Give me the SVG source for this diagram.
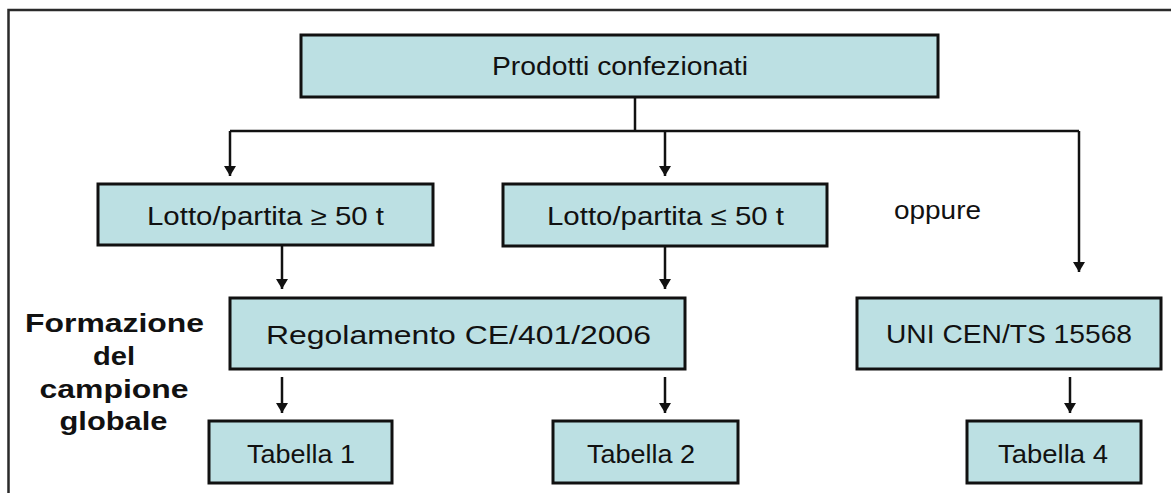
<svg xmlns="http://www.w3.org/2000/svg" width="1171" height="493" viewBox="0 0 1171 493">
<style>
.box{fill:#BCE0E3;stroke:#111;stroke-width:3}
.t{font-family:"Liberation Sans",Arial,sans-serif;font-size:26px;fill:#111}
.b{font-family:"Liberation Sans",Arial,sans-serif;font-size:26px;font-weight:bold;fill:#111;text-anchor:middle}
.c{fill:none;stroke:#111;stroke-width:2.5}
.frame{fill:none;stroke:#2a2a2a;stroke-width:2.5}
</style>
<defs>
<marker id="ah" viewBox="0 0 10 12" markerWidth="10" markerHeight="12" refX="10" refY="6" orient="auto" markerUnits="userSpaceOnUse" preserveAspectRatio="none">
<path d="M0,0 L10,6 L0,12 z" fill="#111"/>
</marker>
</defs>
<rect class="frame" x="8.5" y="10" width="1180" height="500"/>
<g id="connectors">
<path class="c" d="M635,97 V131"/>
<path class="c" d="M230,131 H1079"/>
<path class="c" d="M230,131 V176" marker-end="url(#ah)"/>
<path class="c" d="M665,131 V176" marker-end="url(#ah)"/>
<path class="c" d="M1079,131 V272" marker-end="url(#ah)"/>
<path class="c" d="M282,245 V289" marker-end="url(#ah)"/>
<path class="c" d="M665,246 V289" marker-end="url(#ah)"/>
<path class="c" d="M282,377 V413" marker-end="url(#ah)"/>
<path class="c" d="M665,377 V413" marker-end="url(#ah)"/>
<path class="c" d="M1070,377 V413" marker-end="url(#ah)"/>
</g>
<g id="n-prodotti">
<rect class="box" x="301" y="35" width="637" height="62"/>
<text class="t" x="492" y="75" textLength="256" lengthAdjust="spacingAndGlyphs">Prodotti confezionati</text>
</g>
<g id="n-lotto-ge">
<rect class="box" x="98" y="184" width="335" height="61"/>
<text class="t" x="147" y="225" textLength="237" lengthAdjust="spacingAndGlyphs">Lotto/partita  ≥ 50 t</text>
</g>
<g id="n-lotto-le">
<rect class="box" x="503" y="184" width="324" height="62"/>
<text class="t" x="547" y="225" textLength="237" lengthAdjust="spacingAndGlyphs">Lotto/partita  ≤ 50 t</text>
</g>
<g id="n-oppure">
<text class="t" x="894" y="219" textLength="87" lengthAdjust="spacingAndGlyphs">oppure</text>
</g>
<g id="n-formazione">
<text class="b" x="114.5" y="332" textLength="179" lengthAdjust="spacingAndGlyphs">Formazione</text>
<text class="b" x="114" y="365" textLength="42" lengthAdjust="spacingAndGlyphs">del</text>
<text class="b" x="114" y="398" textLength="149" lengthAdjust="spacingAndGlyphs">campione</text>
<text class="b" x="113.5" y="430" textLength="108" lengthAdjust="spacingAndGlyphs">globale</text>
</g>
<g id="n-regolamento">
<rect class="box" x="230" y="298" width="455" height="71"/>
<text class="t" x="266" y="344" textLength="385" lengthAdjust="spacingAndGlyphs">Regolamento CE/401/2006</text>
</g>
<g id="n-uni">
<rect class="box" x="857" y="298" width="304" height="71"/>
<text class="t" x="886" y="343" textLength="246" lengthAdjust="spacingAndGlyphs">UNI CEN/TS 15568</text>
</g>
<g id="n-tab1">
<rect class="box" x="209" y="421" width="183" height="62"/>
<text class="t" x="247" y="463" textLength="108" lengthAdjust="spacingAndGlyphs">Tabella 1</text>
</g>
<g id="n-tab2">
<rect class="box" x="553" y="421" width="185" height="62"/>
<text class="t" x="587" y="463" textLength="108" lengthAdjust="spacingAndGlyphs">Tabella 2</text>
</g>
<g id="n-tab4">
<rect class="box" x="967" y="421" width="174" height="62"/>
<text class="t" x="998" y="463" textLength="110" lengthAdjust="spacingAndGlyphs">Tabella 4</text>
</g>
</svg>
